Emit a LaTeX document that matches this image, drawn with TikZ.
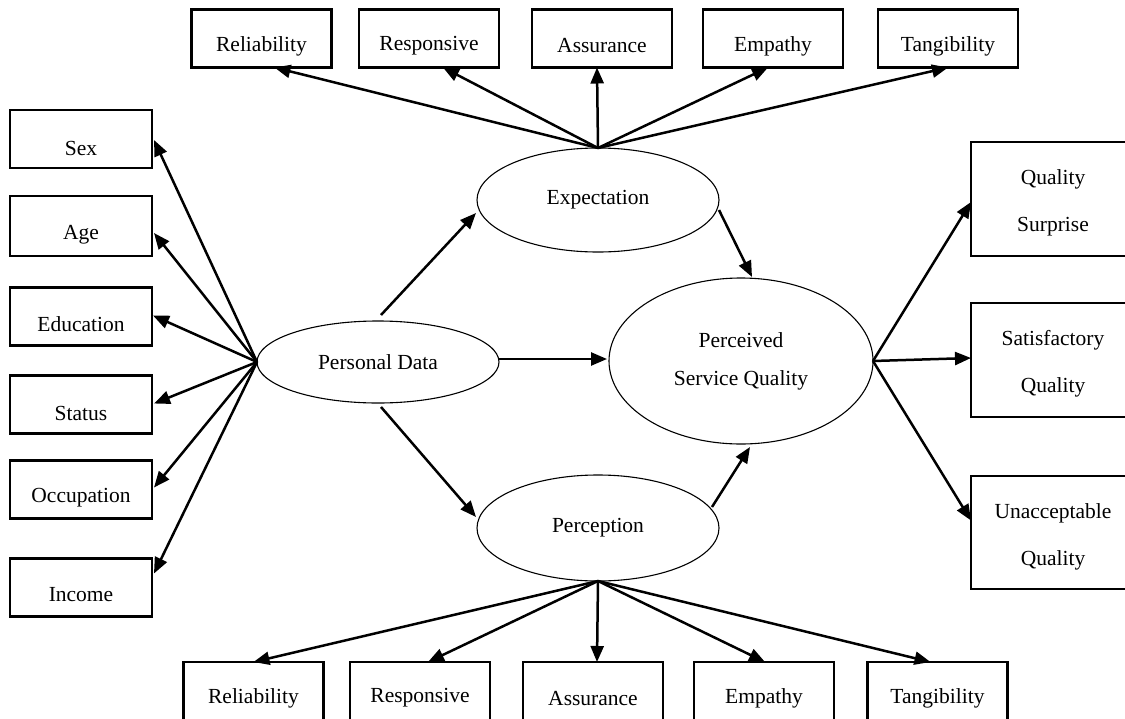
\documentclass[tikz,border=0pt]{standalone}
\usepackage{fontspec}
\setmainfont{Liberation Serif}
\usetikzlibrary{arrows.meta,shapes.geometric,calc}
\begin{document}
\begin{tikzpicture}[x=1pt,y=-1pt,
  box/.style={draw,line width=2.4pt,minimum width=140pt,minimum height=58pt,inner sep=0pt,outer sep=0pt},
  rbox/.style={box,minimum width=164pt,minimum height=114pt},
  ell/.style={draw,ellipse,line width=1.1pt,inner sep=0pt,outer sep=0pt,align=center,font=\fontsize{21.5}{25}\selectfont},
  lbl/.style={font=\fontsize{21.5}{25}\selectfont,inner sep=0pt,align=center},
  arr/.style={line width=2.5pt,-{Triangle[length=16pt,width=13pt]}}]
\useasboundingbox (0,0) rectangle (1125,718);
\clip (0,0) rectangle (1125,718);
\fill[white] (0,0) rectangle (1125,718);

% ellipses
\node[ell,minimum width=242pt,minimum height=104pt] (exp) at (598,200) {Expectation};
\node[ell,minimum width=242pt,minimum height=82pt] (pd) at (378,362) {\raisebox{-5pt}{Personal Data}};
\node[ell,minimum width=264pt,minimum height=166pt] (psq) at (741,361) {Perceived\\[13pt]Service Quality};
\node[ell,minimum width=242pt,minimum height=106pt] (perc) at (598,528) {Perception};

% top boxes
\node[box] (rel1) at (261.5,38.5) {};
\node[box] (res1) at (429,38.5) {};
\node[box] (ass1) at (602,38.5) {};
\node[box] (emp1) at (773,38.5) {};
\node[box] (tan1) at (948,38.5) {};
\node[lbl] (rel1t) at (261.5,46) {Reliability};
\node[lbl] (res1t) at (429,46) {Responsive};
\node[lbl] (ass1t) at (602,46) {Assurance};
\node[lbl] (emp1t) at (773,46) {Empathy};
\node[lbl] (tan1t) at (948,46) {Tangibility};

% left boxes
\node[box,minimum width=142pt] (sex) at (81,139) {};
\node[box,minimum width=142pt,minimum height=60pt] (age) at (81,226) {};
\node[box,minimum width=142pt] (edu) at (81,316.5) {};
\node[box,minimum width=142pt] (sta) at (81,404.5) {};
\node[box,minimum width=142pt] (occ) at (81,489.5) {};
\node[box,minimum width=142pt] (inc) at (81,587.5) {};
\node[lbl] (sext) at (81,148) {Sex};
\node[lbl] (aget) at (81,235) {Age};
\node[lbl] (edut) at (81,324) {Education};
\node[lbl] (stat) at (81,413) {Status};
\node[lbl] (occt) at (81,498) {Occupation};
\node[lbl] (inct) at (81,595) {Income};

% bottom boxes
\node[box,minimum height=59pt] (rel2) at (253.5,691.5) {};
\node[box,minimum height=59pt] (res2) at (420,691.5) {};
\node[box,minimum height=59pt] (ass2) at (593,691.5) {};
\node[box,minimum height=59pt] (emp2) at (764,691.5) {};
\node[box,minimum height=59pt] (tan2) at (937.5,691.5) {};
\node[lbl] (rel2t) at (253.5,698) {Reliability};
\node[lbl] (res2t) at (420,698) {Responsive};
\node[lbl] (ass2t) at (593,698) {Assurance};
\node[lbl] (emp2t) at (764,698) {Empathy};
\node[lbl] (tan2t) at (937.5,698) {Tangibility};

% right boxes
\node[rbox] (qs) at (1053,199) {};
\node[rbox] (sq) at (1053,360) {};
\node[rbox,minimum height=113pt] (uq) at (1053,532.5) {};
\node[lbl] (qst) at (1053,203) {Quality\\[22pt]Surprise};
\node[lbl] (sqt) at (1053,364) {Satisfactory\\[22pt]Quality};
\node[lbl] (uqt) at (1053,537) {Unacceptable\\[22pt]Quality};

% arrows: expectation to top boxes
\draw[arr] (exp.north) -- ($(rel1.south)+(13,0)$);
\draw[arr] (exp.north) -- ($(res1.south)+(14,0)$);
\draw[arr] (exp.north) -- ($(ass1.south)+(-5,0)$);
\draw[arr] (exp.north) -- ($(emp1.south)+(-5,0)$);
\draw[arr] (exp.north) -- (tan1.south);

% personal data to left boxes
\draw[arr] (pd.west) -- ($(sex.east)+(2,1)$);
\draw[arr] (pd.west) -- ($(age.east)+(2,7)$);
\draw[arr] (pd.west) -- ($(edu.east)+(1,-1)$);
\draw[arr] (pd.west) -- ($(sta.east)+(2,-1)$);
\draw[arr] (pd.west) -- ($(occ.east)+(2,-2)$);
\draw[arr] (pd.west) -- ($(inc.east)+(2,-14)$);

% perception to bottom boxes
\draw[arr] (perc.south) -- (rel2.north);
\draw[arr] (perc.south) -- ($(res2.north)+(8,0)$);
\draw[arr] (perc.south) -- ($(ass2.north)+(4,0)$);
\draw[arr] (perc.south) -- ($(emp2.north)+(1,0)$);
\draw[arr] (perc.south) -- ($(tan2.north)+(-7,0)$);

% perceived service quality to right boxes
\draw[arr] (psq.east) -- ($(qs.west)+(0,3)$);
\draw[arr] (psq.east) -- ($(sq.west)+(0,-2)$);
\draw[arr] (psq.east) -- ($(uq.west)+(0,-12)$);

% centre arrows
\draw[arr] ($(pd.north)+(3,-6)$) -- ($(exp.west)+(-1,13)$);
\draw[arr] ($(pd.east)+(0,-3)$) -- ($(psq.west)+(-2,-2)$);
\draw[arr] ($(pd.south)+(3,4)$) -- ($(perc.west)+(-1,-11)$);
\draw[arr] ($(exp.east)+(0,10)$) -- ($(psq.north)+(11,-1)$);
\draw[arr] ($(perc.east)+(-7,-21)$) -- ($(psq.south)+(9,3)$);
\end{tikzpicture}
\end{document}
